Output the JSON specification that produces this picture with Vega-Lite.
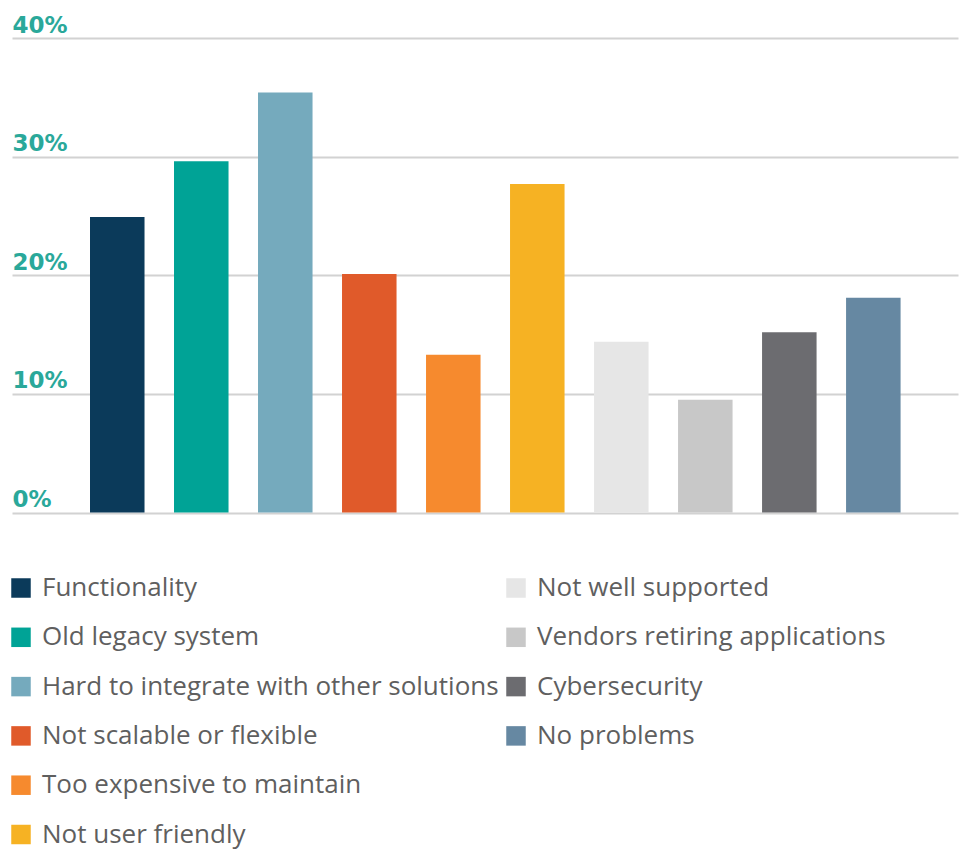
{
  "$schema": "https://vega.github.io/schema/vega-lite/v6.json",
  "width": 946,
  "height": 474.5,
  "autosize": {"type": "none"},
  "padding": {"left": 12, "top": 38, "right": 3, "bottom": 336.5},
  "background": "white",
  "data": {
    "values": [
      {"cat": "Functionality", "value": 24.9},
      {"cat": "Old legacy system", "value": 29.6},
      {"cat": "Hard to integrate with other solutions", "value": 35.4},
      {"cat": "Not scalable or flexible", "value": 20.1},
      {"cat": "Too expensive to maintain", "value": 13.3},
      {"cat": "Not user friendly", "value": 27.7},
      {"cat": "Not well supported", "value": 14.4},
      {"cat": "Vendors retiring applications", "value": 9.5},
      {"cat": "Cybersecurity", "value": 15.2},
      {"cat": "No problems", "value": 18.1}
    ]
  },
  "encoding": {
    "x": {
      "field": "cat",
      "type": "nominal",
      "sort": ["Functionality", "Old legacy system", "Hard to integrate with other solutions", "Not scalable or flexible", "Too expensive to maintain", "Not user friendly", "Not well supported", "Vendors retiring applications", "Cybersecurity", "No problems"],
      "scale": {"paddingInner": 0.351, "paddingOuter": 0.806, "align": 0.576},
      "axis": null
    },
    "y": {
      "field": "value",
      "type": "quantitative",
      "scale": {"domain": [0, 40], "nice": false},
      "axis": {
        "title": null,
        "values": [0, 10, 20, 30, 40],
        "labelExpr": "datum.value + '%'",
        "domain": false,
        "ticks": false,
        "tickSize": 0,
        "labelPadding": 0,
        "labelAlign": "left",
        "labelBaseline": "alphabetic",
        "labelOffset": -6,
        "labelFont": "DejaVu Sans",
        "labelFontWeight": "bold",
        "labelFontSize": 23,
        "labelColor": "#2aa89a",
        "grid": true,
        "gridColor": "#d2d2d2",
        "gridWidth": 1.8
      }
    }
  },
  "layer": [
    {
      "transform": [{"filter": {"field": "cat", "oneOf": ["Functionality", "Old legacy system", "Hard to integrate with other solutions", "Not scalable or flexible", "Too expensive to maintain", "Not user friendly"]}}],
      "mark": {"type": "bar"},
      "encoding": {
        "color": {
          "field": "cat",
          "type": "nominal",
          "scale": {
            "domain": ["Functionality", "Old legacy system", "Hard to integrate with other solutions", "Not scalable or flexible", "Too expensive to maintain", "Not user friendly"],
            "range": ["#0b3a5a", "#00a396", "#75aabd", "#e05a2a", "#f68a2e", "#f6b223"]
          },
          "legend": {
            "title": null,
            "orient": "none",
            "legendX": -4,
            "legendY": 537,
            "padding": 0,
            "symbolType": "square",
            "symbolSize": 380,
            "symbolStrokeWidth": 0,
            "labelFont": "Open Sans",
            "labelFontSize": 26,
            "labelColor": "#5f5f5f",
            "labelOffset": 8,
            "rowPadding": 23.3,
            "labelLimit": 500
          }
        }
      }
    },
    {
      "transform": [{"filter": {"field": "cat", "oneOf": ["Not well supported", "Vendors retiring applications", "Cybersecurity", "No problems"]}}],
      "mark": {"type": "bar"},
      "encoding": {
        "fill": {
          "field": "cat",
          "type": "nominal",
          "scale": {
            "domain": ["Not well supported", "Vendors retiring applications", "Cybersecurity", "No problems"],
            "range": ["#e6e6e6", "#c8c8c8", "#6c6c70", "#6688a2"]
          },
          "legend": {
            "title": null,
            "orient": "none",
            "legendX": 491,
            "legendY": 537,
            "padding": 0,
            "symbolType": "square",
            "symbolSize": 380,
            "symbolStrokeWidth": 0,
            "labelFont": "Open Sans",
            "labelFontSize": 26,
            "labelColor": "#5f5f5f",
            "labelOffset": 8,
            "rowPadding": 23.3,
            "labelLimit": 500
          }
        }
      }
    }
  ],
  "config": {"view": {"stroke": null}}
}
